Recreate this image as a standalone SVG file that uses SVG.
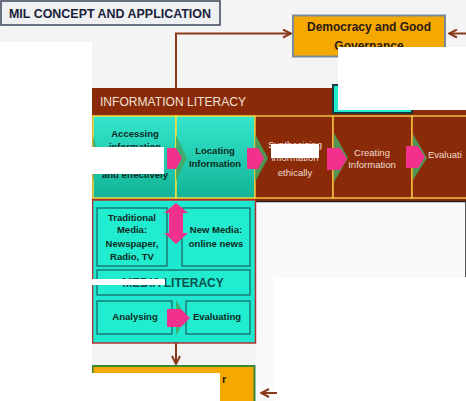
<svg xmlns="http://www.w3.org/2000/svg" width="466" height="401" viewBox="0 0 466 401">
<defs>
<linearGradient id="cy" x1="0" y1="0" x2="0" y2="1">
<stop offset="0" stop-color="#34e6cc"/>
<stop offset="1" stop-color="#12b496"/>
</linearGradient>
<marker id="ah" viewBox="0 0 10 10" refX="9" refY="5" markerWidth="10" markerHeight="10" markerUnits="userSpaceOnUse" orient="auto">
<path d="M1,1 L9,5 L1,9" fill="none" stroke="#8b3a1a" stroke-width="2"/>
</marker>
</defs>
<style>
.b{font-family:"Liberation Sans",Arial,sans-serif;font-weight:bold;}
.n{font-family:"Liberation Sans",Arial,sans-serif;}
.dk{fill:#0c2a22;font-size:9.5px;text-anchor:middle;}
.lt{fill:#f2ddd0;font-size:9.5px;text-anchor:middle;}
.st{text-anchor:start;}
.conn{fill:none;stroke:#8b3a1a;stroke-width:2;}
.box{fill:#22eccf;stroke:#1a6060;stroke-width:1.2;}
.pink{fill:#f2318c;}
.grn{fill:#45a862;opacity:0.85;}
.wh{fill:#ffffff;}
</style>
<rect width="466" height="401" fill="#f4f4f4"/>
<rect x="256" y="200" width="210" height="201" fill="#fafafa"/>
<rect x="275" y="278" width="191" height="123" fill="#ffffff"/>
<line x1="465.5" y1="200" x2="465.5" y2="277" stroke="#555" stroke-width="1"/>

<g id="title">
<rect x="1" y="1" width="219" height="24" fill="#eef0f2" stroke="#3a4656" stroke-width="1.5"/>
<text x="9" y="17.5" class="b" font-size="12" fill="#1a1f3a" textLength="202" lengthAdjust="spacingAndGlyphs">MIL  CONCEPT AND APPLICATION</text>
</g>

<g id="democracy">
<rect x="293" y="15.5" width="152" height="41" fill="#f5a800" stroke="#7a8a99" stroke-width="2"/>
<text x="369" y="31" class="b" font-size="12" fill="#2a1a10" text-anchor="middle">Democracy and Good</text>
<text x="369" y="50" class="b" font-size="12" fill="#2a1a10" text-anchor="middle">Governance</text>
</g>

<g id="information-literacy">
<rect x="86" y="112" width="380" height="89" fill="#8a2a08"/>
<rect x="92" y="88" width="242" height="28" fill="#8a2a08"/>
<rect x="412" y="110" width="54" height="6" fill="#8a2a08"/>
<rect x="333" y="85" width="79" height="28" fill="#22ecd0" stroke="#1a3a3a" stroke-width="2"/>
<text x="100" y="106" class="n" font-size="12" fill="#f2e2d8" textLength="146" lengthAdjust="spacingAndGlyphs">INFORMATION LITERACY</text>
<line x1="256" y1="201.5" x2="466" y2="201.5" stroke="#222" stroke-width="1.5"/>
</g>

<g id="accessing">
<rect x="93" y="116" width="83" height="82" fill="url(#cy)" stroke="#f2e040" stroke-width="1.5"/>
<polygon class="grn" points="93,136 100,158 93,180"/>
<text class="b dk" x="135" y="137">Accessing</text>
<text class="b dk" x="135" y="150">information</text>
<text class="b dk" x="135" y="164">efficiently</text>
<text class="b dk" x="135" y="178">and effectively</text>
</g>
<g id="locating">
<rect x="176" y="116" width="79" height="82" fill="url(#cy)" stroke="#f2e040" stroke-width="1.5"/>
<text class="b dk" x="215" y="154">Locating</text>
<text class="b dk" x="215" y="167">Information</text>
</g>
<g id="synthesizing">
<rect x="255" y="116" width="78" height="82" fill="#8a2a08" stroke="#f2c040" stroke-width="1.5"/>
<text class="n lt" x="295" y="148">Synthesizing</text>
<text class="n lt" x="295" y="161">information</text>
<text class="n lt" x="295" y="176">ethically</text>
</g>
<g id="creating">
<rect x="333" y="116" width="79" height="82" fill="#8a2a08" stroke="#f2c040" stroke-width="1.5"/>
<text class="n lt" x="372" y="156">Creating</text>
<text class="n lt" x="372" y="168">Information</text>
</g>
<g id="evaluating-info">
<rect x="412" y="116" width="60" height="82" fill="#8a2a08" stroke="#f2c040" stroke-width="1.5"/>
<text class="n lt st" x="428" y="158">Evaluati</text>
</g>

<g id="flow-arrows">
<polygon class="grn" points="176,135 187,158 176,181"/>
<polygon class="pink" points="167,148 176,148 182,158 176,169 167,169"/>
<polygon class="grn" points="255,134 268,158 255,182"/>
<polygon class="pink" points="247,148 258,148 264,158 258,169 247,169"/>
<polygon class="grn" points="334,133 348,158 334,182"/>
<polygon class="pink" points="327,148 340,148 347,159 340,170 327,170"/>
<polygon class="grn" points="413,134 427,158 413,180"/>
<polygon class="pink" points="406,146 418,146 425,157 418,168 406,168"/>
</g>

<g id="media-literacy">
<rect x="92.5" y="200" width="163" height="143" fill="#1ee8d0" stroke="#b03030" stroke-width="1.5"/>
<rect class="box" x="97" y="208" width="70" height="58"/>
<rect class="box" x="182" y="208" width="68" height="58"/>
<rect class="box" x="97" y="270" width="153" height="25"/>
<text x="173" y="287" class="b" font-size="12" fill="#0a5050" text-anchor="middle">MEDIA LITERACY</text>
<g id="traditional-media">
<text class="b dk" x="132" y="221" font-size="9">Traditional</text>
<text class="b dk" x="132" y="233" font-size="9">Media:</text>
<text class="b dk" x="132" y="247" font-size="9">Newspaper,</text>
<text class="b dk" x="132" y="260" font-size="9">Radio, TV</text>
</g>
<g id="new-media">
<text class="b dk" x="216" y="233" font-size="9">New Media:</text>
<text class="b dk" x="216" y="247" font-size="9">online news</text>
</g>
<g id="analysing">
<rect class="box" x="97" y="301" width="75" height="33"/>
<text class="b dk" x="135" y="320" font-size="9">Analysing</text>
</g>
<g id="evaluating-media">
<rect class="box" x="186" y="301" width="64" height="33"/>
<text class="b dk" x="217" y="320" font-size="9">Evaluating</text>
</g>
<polygon class="pink" points="176,203 188,213 183,213 183,233 188,233 176,244 164,233 169,233 169,213 164,213"/>
<polygon class="grn" points="176,300 186,317 176,336"/>
<polygon class="pink" points="167,309 181,309 190,318 181,327 167,327"/>
</g>

<g id="outcome">
<rect x="92.5" y="366" width="162" height="40" fill="#f5a800" stroke="#3a8a3a" stroke-width="2"/>
<text x="222" y="383" class="b" font-size="11" fill="#2a1a10">r</text>
</g>

<g id="connectors">
<path class="conn" d="M176,88 V33.5 H291" marker-end="url(#ah)"/>
<path class="conn" d="M466,33.5 H449" marker-end="url(#ah)"/>
<path class="conn" d="M176,343 V364" marker-end="url(#ah)"/>
<path class="conn" d="M277,393 H261" marker-end="url(#ah)"/>
</g>

<g id="masks">
<rect class="wh" x="0" y="42" width="92" height="359"/>
<rect class="wh" x="338" y="47" width="128" height="63"/>
<rect class="wh" x="85" y="147" width="79" height="27"/>
<rect class="wh" x="271" y="144" width="48" height="14"/>
<rect class="wh" x="90" y="279" width="75" height="6"/>
<rect class="wh" x="90" y="373" width="130" height="28"/>
</g>
</svg>
